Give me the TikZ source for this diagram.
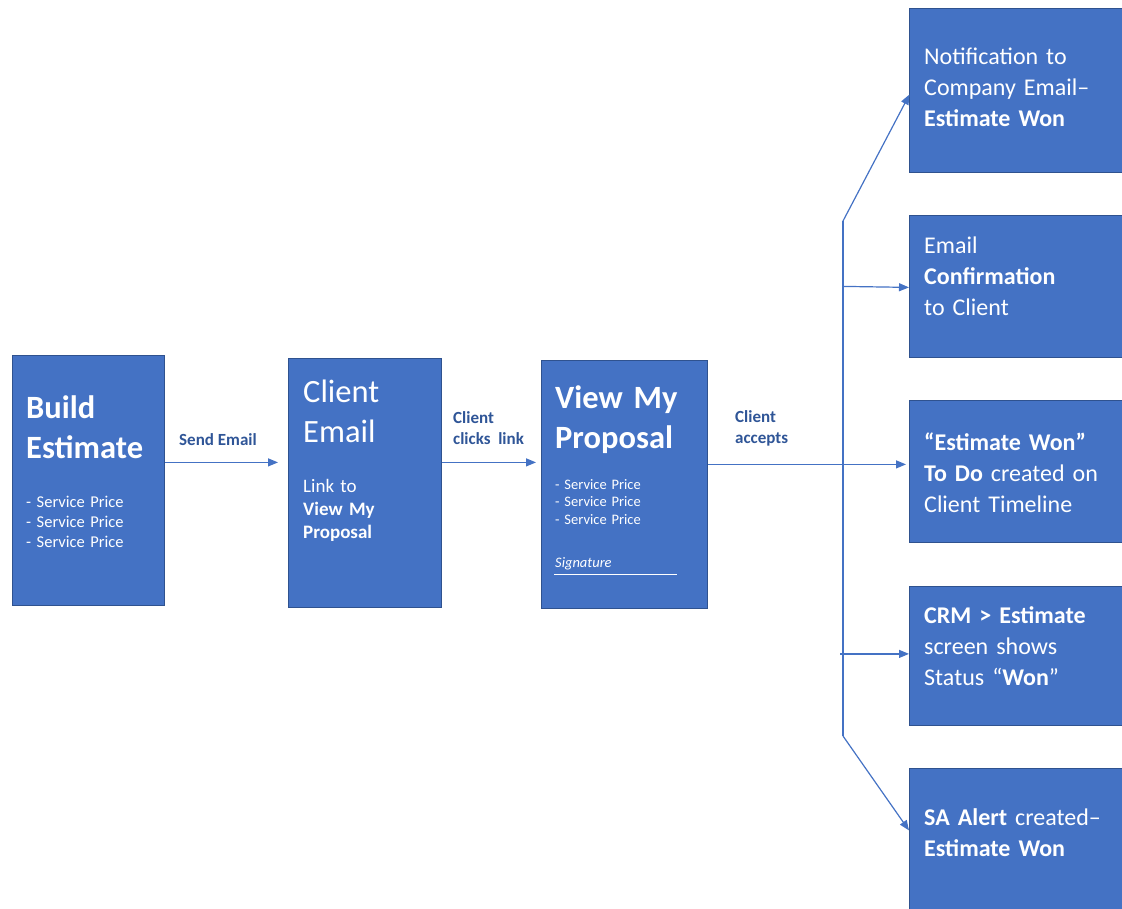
\documentclass[tikz,border=0pt]{standalone}
\usepackage{fontspec}
\setmainfont{Carlito}
\usetikzlibrary{arrows.meta}
\definecolor{boxblue}{HTML}{4472C4}
\definecolor{boxedge}{HTML}{2F528F}
\definecolor{lblblue}{HTML}{2F5597}
\begin{document}
\begin{tikzpicture}[x=1pt,y=-1pt,
  box/.style={draw=boxedge, line width=0.8pt, fill=boxblue, inner sep=0pt, anchor=north west},
  wtext/.style={text=white, anchor=base west, inner sep=0pt, align=left, text width=200pt},
  title/.style={wtext, font=\fontsize{32.5}{40}\selectfont\bfseries},
  small/.style={wtext, font=\fontsize{16.5}{20}\selectfont},
  tiny/.style={wtext, font=\fontsize{14.5}{17.5}\selectfont},
  side/.style={wtext, font=\fontsize{24}{31}\selectfont},
  lbl/.style={text=lblblue, font=\fontsize{17}{21.5}\selectfont\bfseries, inner sep=0pt, align=left, anchor=base west, text width=120pt},
  arr/.style={draw=boxblue, line width=1.2pt, -{Triangle[length=10pt,width=8pt]}},
  ln/.style={draw=boxblue, line width=1.2pt}]
\useasboundingbox (0,0) rectangle (1122,909);

% boxes
\node[box, minimum width=152pt, minimum height=250pt] (build) at (12,355) {};
\node[box, minimum width=153pt, minimum height=249pt] (client) at (288,358) {};
\node[box, minimum width=166pt, minimum height=248pt] (view) at (541,360) {};
\node[box, minimum width=230pt, minimum height=164pt] (r1) at (909,8) {};
\node[box, minimum width=230pt, minimum height=142pt] (r2) at (909,215) {};
\node[box, minimum width=230pt, minimum height=142pt] (r3) at (909,400) {};
\node[box, minimum width=230pt, minimum height=139pt] (r4) at (909,586) {};
\node[box, minimum width=230pt, minimum height=150pt] (r5) at (909,768) {};

% texts in boxes
\node[title] (t-build) at (26,418) {Build\\Estimate};
\node[small] (s-build) at (26,507) {- Service Price\\- Service Price\\- Service Price};
\node[wtext, font=\fontsize{32.5}{40}\selectfont] (t-client) at (303,402) {Client\\Email};
\node[wtext, font=\fontsize{19}{23}\selectfont] (s-client) at (303,492) {Link to\\\textbf{View My}\\\textbf{Proposal}};
\node[title] (t-view) at (555,408) {View My\\Proposal};
\node[tiny] (s-view) at (555,489) {- Service Price\\- Service Price\\- Service Price};
\node[tiny, font=\fontsize{14.5}{17.5}\selectfont\itshape] (sig) at (555,567) {Signature};
\coordinate (sigA) at (554,574);
\coordinate (sigB) at (677,574);
\draw[white, line width=1pt] (sigA) -- (sigB);

\node[side] (x-r1) at (924,65) {Notification to\\Company Email--\\\textbf{Estimate Won}};
\node[side] (x-r2) at (924,254) {Email\\\textbf{Confirmation}\\to Client};
\node[side] (x-r3) at (924,450) {\textbf{“Estimate Won”}\\\textbf{To Do} created on\\Client Timeline};
\node[side] (x-r4) at (924,623) {\textbf{CRM > Estimate}\\screen shows\\Status “\textbf{Won}”};
\node[side] (x-r5) at (924,825) {\textbf{SA Alert} created--\\\textbf{Estimate Won}};

% labels
\node[lbl, align=center, text width=] (l1) at (179,445) {Send Email};
\node[lbl] (l2) at (453,423) {Client\\clicks\hspace{0.12em} link};
\node[lbl] (l3) at (735,422) {Client\\accepts};

% connectors
\coordinate (trunkTop) at (843,221);
\coordinate (trunkBot) at (843,736);
\draw[arr] ([yshift=18pt]build.east) -- ([yshift=18pt]build.east -| client.west) [shorten >=10pt];
\draw[arr, shorten >=5pt] ([yshift=20.5pt]client.east) -- ([yshift=20.5pt]client.east -| view.west);
\draw[arr, shorten >=3pt] ([yshift=20pt]view.east) -- ([yshift=20pt]view.east -| r3.west);
\draw[ln] (trunkTop) -- (trunkBot);
\draw[arr, shorten >=-1pt] (trunkTop) -- ([yshift=-5pt]r1.west);
\draw[arr] (r2.west -| trunkTop) -- ([yshift=-1pt]r2.west);
\draw[arr] ([xshift=-3pt,yshift=2pt]r4.west -| trunkTop) -- ([yshift=2pt]r4.west);
\draw[arr] (trunkBot) -- ([yshift=13pt]r5.west);
\end{tikzpicture}
\end{document}
